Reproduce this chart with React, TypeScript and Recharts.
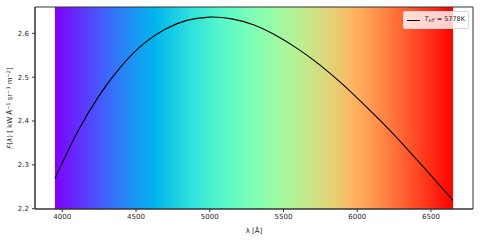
import { LineChart, Line, XAxis, YAxis, ReferenceArea } from 'recharts'

// wavelength [Å] and flux F(λ) [kW Å^-1 sr^-1 m^-2]
const wavelengths = [
  3950, 4100, 4250, 4400, 4550, 4700, 4850, 5000, 5150, 5300,
  5450, 5600, 5750, 5900, 6050, 6200, 6350, 6500, 6650,
]
const flux = [
  2.269, 2.373, 2.458, 2.525, 2.576, 2.61, 2.63, 2.637, 2.633, 2.619,
  2.595, 2.564, 2.527, 2.484, 2.436, 2.386, 2.332, 2.276, 2.219,
]
const xTicks = [4000, 4500, 5000, 5500, 6000, 6500]
const yTicks = [2.2, 2.3, 2.4, 2.5, 2.6]
const spectrumRange = [3950, 6650]
const xDomain = [3815, 6785]
const yDomain = [2.1993, 2.66]

// matplotlib "rainbow" colormap stops
const rainbow = [
  '#8000ff', '#6628fe', '#4d4ffc', '#3374f8', '#1a96f3', '#00b4ec', '#1acee3',
  '#33e3da', '#4df3ce', '#66fcc2', '#80ffb4', '#99fca6', '#b3f396', '#cce385',
  '#e6ce74', '#ffb462', '#ff964f', '#ff743c', '#ff4f28', '#ff2814', '#ff0000',
]

const data = wavelengths.map((w, i) => ({ w, f: flux[i] }))

const FONT = 'DejaVu Sans'
const TXT = '#262626'

function YLabel({ viewBox }: any) {
  const cx = 10
  const cy = viewBox.y + viewBox.height / 2
  return (
    <text
      x={cx}
      y={cy}
      transform={`rotate(-90 ${cx} ${cy})`}
      textAnchor="middle"
      dominantBaseline="central"
      fontFamily={FONT}
      fontSize={7}
      fill={TXT}
    >
      <tspan fontStyle="italic">F</tspan>(<tspan fontStyle="italic">λ</tspan>) [ kW Å
      <tspan dy={-2.5} fontSize={5}>−1</tspan>
      <tspan dy={2.5}> sr</tspan>
      <tspan dy={-2.5} fontSize={5}>−1</tspan>
      <tspan dy={2.5}> m</tspan>
      <tspan dy={-2.5} fontSize={5}>−2</tspan>
      <tspan dy={2.5}>]</tspan>
    </text>
  )
}

function LegendBox() {
  return (
    <div
      style={{
        position: 'absolute',
        top: 11,
        left: 403,
        width: 58,
        display: 'flex',
        alignItems: 'center',
        background: 'rgba(255,255,255,0.8)',
        border: '1px solid #d8d8d8',
        borderRadius: 2,
        padding: '2px 3px',
        fontFamily: FONT,
        fontSize: 6.5,
        color: TXT,
        lineHeight: '10px',
        whiteSpace: 'nowrap',
      }}
    >
      <span style={{ display: 'inline-block', width: 13, height: 0, borderTop: '1.2px solid #000', marginRight: 5 }} />
      <span>
        <i>T</i>
        <sub style={{ fontSize: 4.5, fontStyle: 'italic', verticalAlign: '-1px' }}>eff</sub> = 5778K
      </span>
    </div>
  )
}

export default function App() {
  return (
    <div style={{ position: 'absolute', left: 0, top: 0, width: 480, height: 240, background: '#fff' }}>
      <LineChart width={480} height={240} data={data} margin={{ top: 7, right: 7, bottom: 1, left: 0 }}>
        <defs>
          <linearGradient id="rainbow" x1="0" y1="0" x2="1" y2="0">
            {rainbow.map((c, i) => (
              <stop key={i} offset={`${(i / (rainbow.length - 1)) * 100}%`} stopColor={c} />
            ))}
          </linearGradient>
        </defs>
        <XAxis
          dataKey="w"
          type="number"
          domain={xDomain}
          ticks={xTicks}
          allowDataOverflow
          tickSize={3}
          tickMargin={2}
          stroke="#333"
          tick={{ fontFamily: FONT, fontSize: 7, fill: TXT }}
          height={30}
          label={{ value: 'λ [Å]', position: 'insideBottom', offset: 6, fontFamily: FONT, fontSize: 7, fill: TXT }}
        />
        <YAxis
          type="number"
          domain={yDomain}
          ticks={yTicks}
          allowDataOverflow
          tickFormatter={(v: number) => v.toFixed(1)}
          tickSize={3}
          tickMargin={3}
          width={35}
          stroke="#333"
          tick={{ fontFamily: FONT, fontSize: 7, fill: TXT }}
          label={{ content: YLabel }}
        />
        <ReferenceArea x1={spectrumRange[0]} x2={spectrumRange[1]} fill="url(#rainbow)" fillOpacity={1} strokeOpacity={0} />
        <ReferenceArea x1={xDomain[0]} x2={xDomain[1]} y1={yDomain[0]} y2={yDomain[1]} fill="none" stroke="#333" strokeWidth={1} />
        <Line dataKey="f" type="natural" stroke="#000" strokeWidth={1.1} dot={false} isAnimationActive={false} />
      </LineChart>
      <LegendBox />
    </div>
  )
}
